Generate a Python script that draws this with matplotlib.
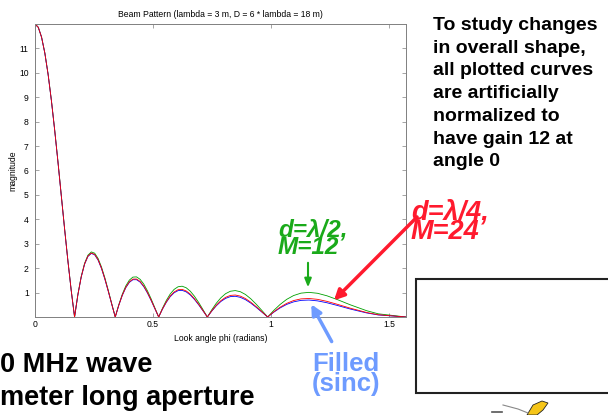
import matplotlib
matplotlib.use('Agg')
import matplotlib.pyplot as plt
from matplotlib.patches import Rectangle, Polygon

plt.rcParams['font.family'] = ['Liberation Sans', 'DejaVu Sans']

# look angle (radians), sampled at sin(phi) = k/72
phi = [0.0, 0.0139, 0.0278, 0.0417, 0.0556, 0.0695, 0.0834, 0.0974, 0.1113, 0.1253, 0.1393, 0.1534, 0.1675,
       0.1816, 0.1957, 0.2099, 0.2241, 0.2384, 0.2527, 0.2671, 0.2815, 0.2960, 0.3105, 0.3251, 0.3398,
       0.3546, 0.3695, 0.3844, 0.3994, 0.4146, 0.4298, 0.4451, 0.4606, 0.4761, 0.4918, 0.5076, 0.5236,
       0.5397, 0.5560, 0.5724, 0.5890, 0.6058, 0.6228, 0.6400, 0.6575, 0.6751, 0.6931, 0.7112, 0.7297,
       0.7485, 0.7676, 0.7871, 0.8070, 0.8273, 0.8481, 0.8693, 0.8911, 0.9135, 0.9366, 0.9604, 0.9851,
       1.0107, 1.0375, 1.0654, 1.0949, 1.1262, 1.1597, 1.1959, 1.2359, 1.2811, 1.3345, 1.4039, 1.4529, 1.5708]

# filled aperture (sinc)
mag_filled = [12.0, 11.863, 11.459, 10.804, 9.924, 8.855, 7.639, 6.325, 4.962, 3.601, 2.292, 1.079, 0.0,
              0.913, 1.637, 2.161, 2.481, 2.604, 2.547, 2.330, 1.985, 1.543, 1.042, 0.516, 0.0,
              0.475, 0.882, 1.200, 1.418, 1.527, 1.528, 1.428, 1.241, 0.982, 0.674, 0.339, 0.0,
              0.321, 0.603, 0.831, 0.992, 1.080, 1.091, 1.030, 0.902, 0.720, 0.498, 0.252, 0.0,
              0.242, 0.458, 0.636, 0.763, 0.835, 0.849, 0.805, 0.709, 0.569, 0.395, 0.201, 0.0,
              0.195, 0.370, 0.515, 0.620, 0.681, 0.695, 0.661, 0.584, 0.470, 0.327, 0.167, 0.084, 0.0]

# array, d = lambda/2, M = 12
mag_half = [12.0, 11.864, 11.463, 10.812, 9.937, 8.872, 7.661, 6.350, 4.987, 3.624, 2.310, 1.089, 0.0,
            0.925, 1.663, 2.200, 2.532, 2.665, 2.613, 2.398, 2.049, 1.599, 1.083, 0.538, 0.0,
            0.499, 0.931, 1.273, 1.510, 1.634, 1.643, 1.543, 1.347, 1.072, 0.740, 0.374, 0.0,
            0.358, 0.678, 0.941, 1.131, 1.239, 1.261, 1.198, 1.057, 0.850, 0.593, 0.303, 0.0,
            0.295, 0.564, 0.788, 0.956, 1.055, 1.082, 1.036, 0.922, 0.747, 0.524, 0.270, 0.0,
            0.267, 0.512, 0.721, 0.879, 0.977, 1.009, 0.972, 0.869, 0.709, 0.501, 0.259, 0.131, 0.0]

# array, d = lambda/4, M = 24
mag_quarter = [12.0, 11.864, 11.460, 10.806, 9.927, 8.859, 7.645, 6.331, 4.968, 3.607, 2.296, 1.081, 0.0,
               0.916, 1.643, 2.170, 2.494, 2.619, 2.563, 2.347, 2.001, 1.557, 1.052, 0.521, 0.0,
               0.481, 0.893, 1.218, 1.440, 1.553, 1.556, 1.456, 1.266, 1.004, 0.690, 0.347, 0.0,
               0.330, 0.621, 0.857, 1.025, 1.117, 1.131, 1.068, 0.938, 0.750, 0.520, 0.264, 0.0,
               0.254, 0.482, 0.670, 0.806, 0.884, 0.900, 0.855, 0.755, 0.607, 0.423, 0.216, 0.0,
               0.210, 0.399, 0.557, 0.674, 0.742, 0.758, 0.724, 0.641, 0.517, 0.362, 0.185, 0.093, 0.0]

xticks = [0, 0.5, 1, 1.5]
xticklabels = ['0', '0.5', '1', '1.5']
yticks = [1, 2, 3, 4, 5, 6, 7, 8, 9, 10, 11]

W, H = 608, 415


def fx(px):
    return px / W


def fy(py):
    return 1 - py / H


fig = plt.figure(figsize=(6.08, 4.15), dpi=100)
ax = fig.add_axes([fx(35), fy(317), fx(406) - fx(35), fy(24) - fy(317)])

ax.plot(phi, mag_half, color='#00a000', lw=0.6)
ax.plot(phi, mag_filled, color='#0000ff', lw=0.6)
ax.plot(phi, mag_quarter, color='#ff0000', lw=0.6)

ax.set_xlim(0, 1.5708)
ax.set_ylim(0, 12)
ax.set_xticks(xticks)
ax.set_xticklabels(xticklabels)
ax.set_yticks(yticks)
ax.tick_params(direction='in', length=3, width=0.5, color='#808080', labelsize=6.2,
               top=True, right=True)
ax.tick_params(axis='x', pad=2.5)
ax.tick_params(axis='y', pad=4.5)
for s in ax.spines.values():
    s.set_color('#808080')
    s.set_linewidth(0.7)
ax.set_title('Beam Pattern (lambda = 3 m, D = 6 * lambda = 18 m)', fontsize=6.2, pad=5)
ax.set_xlabel('Look angle phi (radians)', fontsize=6.2, labelpad=3)
ax.set_ylabel('magnitude', fontsize=6.2, labelpad=1)

# slide text
fig.text(fx(433), fy(17), 'To study changes\nin overall shape,\nall plotted curves\nare artificially\n'
         'normalized to\nhave gain 12 at\nangle 0', fontsize=14, fontweight='bold',
         va='top', ha='left', linespacing=1.44)
fig.text(fx(0), fy(372), '0 MHz wave', fontsize=19.5, fontweight='bold', ha='left', va='baseline')
fig.text(fx(0), fy(405), 'meter long aperture', fontsize=19.5, fontweight='bold', ha='left', va='baseline')

green = '#1aaa1a'
red = '#ff1a2e'
blue = '#6e9bff'
fig.text(fx(278), fy(218), 'd=λ/2,\nM=12', fontsize=17.5, fontweight='bold', fontstyle='italic',
         color=green, ha='left', va='top', linespacing=0.7)
fig.text(fx(411), fy(199), 'd=λ/4,\nM=24', fontsize=19.5, fontweight='bold', fontstyle='italic',
         color=red, ha='left', va='top', linespacing=0.7)
fig.text(fx(346), fy(374), 'Filled\n(sinc)', fontsize=18.5, fontweight='bold',
         color=blue, ha='center', va='center', linespacing=0.8)

ax.annotate('', xy=(1.156, 1.1), xytext=(fx(308), fy(260)), textcoords='figure fraction',
            arrowprops=dict(arrowstyle='-|>,head_length=0.5,head_width=0.2', color=green, lw=1.5),
            annotation_clip=False)
ax.annotate('', xy=(1.2575, 0.6), xytext=(fx(419), fy(215)), textcoords='figure fraction',
            arrowprops=dict(arrowstyle='-|>,head_length=0.6,head_width=0.3', color=red, lw=2.5),
            annotation_clip=False)
ax.annotate('', xy=(1.164, 0.62), xytext=(fx(333), fy(344)), textcoords='figure fraction',
            arrowprops=dict(arrowstyle='-|>,head_length=0.6,head_width=0.3', color=blue, lw=2.5),
            annotation_clip=False)

# empty box at right
fig.patches.append(Rectangle((fx(416), fy(393)), fx(620) - fx(416), fy(279) - fy(393),
                             transform=fig.transFigure, facecolor='white', edgecolor='#222222',
                             lw=1.5, zorder=3))

# bit of clip-art at the bottom edge
fig.lines.append(plt.Line2D([fx(492), fx(502)], [fy(412), fy(412)], transform=fig.transFigure,
                            color='#555555', lw=1.2))
fig.lines.append(plt.Line2D([fx(503), fx(518), fx(528)], [fy(405), fy(409), fy(413)],
                            transform=fig.transFigure, color='#888888', lw=0.8))
fig.patches.append(Polygon([(fx(527), fy(415)), (fx(533), fy(405)), (fx(542), fy(401)),
                            (fx(548), fy(403)), (fx(543), fy(410)), (fx(537), fy(415))],
                           closed=True, transform=fig.transFigure, facecolor='#f5c518',
                           edgecolor='#222222', lw=0.6))

fig.savefig('out.png', dpi=100)
